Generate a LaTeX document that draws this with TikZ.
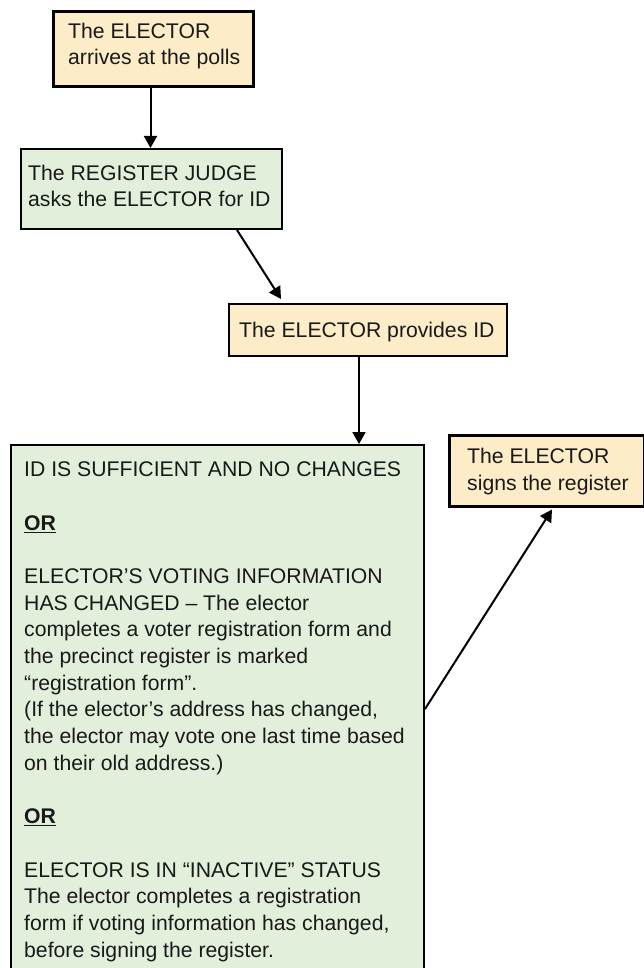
\documentclass[tikz,border=0pt]{standalone}
\usepackage{fontspec}
\setmainfont{Liberation Sans}
\usetikzlibrary{arrows.meta}
\definecolor{orangefill}{RGB}{253,236,200}
\definecolor{greenfill}{RGB}{226,239,218}
\begin{document}
\begin{tikzpicture}[x=1pt,y=-1pt,
  boxo/.style={draw=black, fill=orangefill, inner sep=0pt, anchor=north west},
  boxg/.style={draw=black, fill=greenfill, inner sep=0pt, anchor=north west},
  txt/.style={anchor=base west, inner sep=0pt, align=left, text=black!90, font=\fontsize{21.2}{26.67}\selectfont},
  arr/.style={line width=2pt, -{Triangle[length=12pt,width=13pt]}}]
\useasboundingbox (0,0) rectangle (644,968);
% boxes
\node[boxo, line width=3pt, minimum width=200pt, minimum height=75pt] (b1) at (52,10) {};
\node[boxg, line width=2pt, minimum width=261pt, minimum height=80pt] (b2) at (20,148) {};
\node[boxo, line width=2pt, minimum width=278pt, minimum height=52pt] (b3) at (228,303) {};
\node[boxo, line width=3pt, minimum width=195pt, minimum height=71pt] (b4) at (448,434) {};
\node[boxg, line width=2pt, minimum width=413pt, minimum height=540pt] (b5) at (10,444) {};
% texts (anchored at the baseline of their last line)
\node[txt] (t1) at (68,65) {The ELECTOR\\arrives at the polls};
\node[txt] (t2) at (28,207) {The REGISTER JUDGE\\asks the ELECTOR for ID};
\node[txt] (t3) at (239,337) {The ELECTOR provides ID};
\node[txt] (t4) at (467,490) {The ELECTOR\\signs the register};
\node[txt] (t5) at (24,957) {ID IS SUFFICIENT AND NO CHANGES\\[26.67pt]
\underline{\textbf{OR}}\\[26.67pt]
ELECTOR’S VOTING INFORMATION\\
HAS CHANGED – The elector\\
completes a voter registration form and\\
the precinct register is marked\\
“registration form”.\\
(If the elector’s address has changed,\\
the elector may vote one last time based\\
on their old address.)\\[26.67pt]
\underline{\textbf{OR}}\\[26.67pt]
ELECTOR IS IN “INACTIVE” STATUS\\
The elector completes a registration\\
form if voting information has changed,\\
before signing the register.};
% connectors
\draw[arr] ([xshift=-3pt]b1.south) -- ([xshift=-3pt]b1.south |- b2.north);
\draw[arr] ([xshift=-46pt]b2.south east) -- ([xshift=53pt,yshift=4pt]b3.north west);
\draw[arr] ([xshift=-9pt]b3.south) -- ([xshift=-9pt]b3.south |- b5.north);
\draw[arr] ([yshift=-265pt]b5.north east) -- ([xshift=5pt,yshift=-1.5pt]b4.south);
\end{tikzpicture}
\end{document}
